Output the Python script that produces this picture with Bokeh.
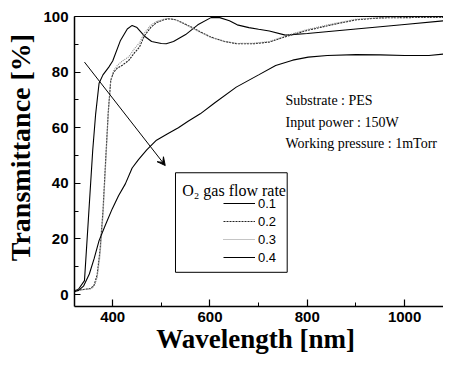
import numpy as np
from bokeh.plotting import figure
from bokeh.models import (LinearAxis, FixedTicker, Range1d, Legend, LegendItem,
                          Label, BoxAnnotation, Arrow, VeeHead)
from bokeh.embed import file_html
from bokeh.resources import INLINE

# ---------------- data ----------------
wl_01 = [320, 330, 342, 350, 359, 365, 372, 380, 392, 400, 416, 430, 440, 450, 465,
         480, 500, 510, 525, 550, 575, 602, 620, 640, 656, 680, 700, 722, 755, 800,
         900, 1000, 1090, 1100]
t_01 = [1.0, 2.0, 5.0, 27, 52, 65, 76, 79, 81.8, 84, 91.4, 95.5, 96.8, 96, 93,
        91, 90.3, 90.2, 91, 93.5, 97, 99.6, 99.6, 98.5, 97, 96, 95.4, 94.8, 93.3, 93.9,
        95.5, 97.1, 98.6, 99]

wl_02 = [320, 340, 355, 362, 368, 374, 380, 386, 391, 396, 402, 410, 420, 433, 445,
         455, 465, 478, 490, 505, 515, 530, 555, 580, 602, 630, 656, 690, 722, 760,
         800, 850, 900, 950, 1000, 1100]
t_02 = [1.5, 1.8, 2.2, 3.5, 7, 16, 30, 50, 66, 77, 80, 81.5, 82.5, 84.2, 87,
        89, 93, 96, 97.8, 98.8, 99.2, 98.8, 96.8, 94.5, 92.6, 91, 90.2, 90.2, 90.8, 93,
        95, 97, 98.8, 99.5, 99.6, 99.7]

wl_03 = [320, 340, 355, 362, 368, 374, 380, 386, 391, 396, 402, 410, 420, 433, 445,
         455, 465, 478, 490, 505, 515, 530, 555, 580, 602, 630, 656, 690, 722, 760,
         800, 850, 900, 950, 1000, 1100]
t_03 = [1.5, 1.8, 2.0, 3.0, 6, 14, 28, 48, 65, 77, 80.5, 82.5, 84, 85.5, 88.5,
        90.5, 94, 96.8, 98.2, 99, 99.3, 98.8, 96.6, 94.3, 92.5, 91, 90.3, 90.4, 91, 93.3,
        95.3, 97.3, 99, 99.6, 99.7, 99.8]

wl_04 = [320, 330, 340, 352, 362, 372, 385, 399, 412, 426, 440, 453, 470, 490, 513,
         535, 555, 580, 610, 654, 700, 735, 770, 802, 841, 900, 950, 1000, 1050, 1080,
         1090, 1100]
t_04 = [1.0, 1.5, 3.0, 7.4, 13, 19.4, 25, 30.8, 35.5, 39.8, 45.5, 48.5, 52, 55.5, 57.8,
        60, 62.3, 65, 69, 74.6, 79, 82.4, 84.3, 85.4, 86, 86.3, 86.2, 86, 86, 86.5,
        87.3, 87]

series_labels = ["0.1", "0.2", "0.3", "0.4"]
x_ticks = [400, 600, 800, 1000]
x_minor = [300, 500, 700, 900, 1100]
y_ticks = [0, 20, 40, 60, 80, 100]
y_minor = [10, 30, 50, 70, 90]

notes = ["Substrate : PES", "Input power : 150W", "Working pressure : 1mTorr"]
note_y = [69.8, 62.0, 54.2]
arrow_start = (342, 83.6)
arrow_end = (508, 46.4)

SERIF = "Liberation Serif"
SANS = "Liberation Sans"
NBSP = "\u00a0"

# ---------------- figure ----------------
p = figure(frame_width=369, frame_height=290,
           min_border_left=74, min_border_right=0, min_border_top=16, min_border_bottom=40,
           x_range=Range1d(321.5, 1080), y_range=Range1d(-4.3, 100),
           output_backend="svg", toolbar_location=None,
           background_fill_color="white", border_fill_color="white")
p.grid.visible = False
p.outline_line_color = None

for ax, ticks, minor in ((p.xaxis[0], x_ticks, x_minor), (p.yaxis[0], y_ticks, y_minor)):
    ax.ticker = FixedTicker(ticks=ticks, minor_ticks=minor)
    ax.axis_line_width = 1.5
    ax.axis_line_color = "black"
    ax.major_tick_in = 7
    ax.major_tick_out = 0
    ax.minor_tick_in = 4
    ax.minor_tick_out = 0
    ax.major_tick_line_width = 1.2
    ax.minor_tick_line_width = 1.0
    ax.major_label_text_font = SANS
    ax.major_label_text_font_style = "bold"
    ax.major_label_text_font_size = "15px"
    ax.major_label_text_color = "black"
    ax.axis_label_text_font = SERIF
    ax.axis_label_text_font_style = "bold"
    ax.axis_label_text_color = "black"
    ax.axis_label_text_line_height = 1.0

p.xaxis[0].major_label_standoff = 5
p.xaxis[0].axis_label = "Wavelength [nm]" + NBSP
p.xaxis[0].axis_label_text_font_size = "27px"
p.xaxis[0].axis_label_standoff = -1
p.yaxis[0].major_label_standoff = 6
p.yaxis[0].major_tick_in = 6
p.yaxis[0].axis_label = NBSP * 4 + "Transmittance [%]"
p.yaxis[0].axis_label_text_font_size = "28px"
p.yaxis[0].axis_label_standoff = 4

top = LinearAxis(ticker=FixedTicker(ticks=[]), major_label_text_font_size="0px",
                 major_tick_line_color=None, minor_tick_line_color=None,
                 axis_line_width=1.2, axis_line_color="black")
p.add_layout(top, "above")

r1 = p.line(wl_01, t_01, line_color="black", line_width=1.1)
r2 = p.line(wl_02, t_02, line_color="#222222", line_width=1.1, line_dash="2 1")
r3 = p.line(wl_03, t_03, line_color="#8a8a8a", line_width=1.1, line_dash="1 1")
r4 = p.line(wl_04, t_04, line_color="black", line_width=1.1)

# legend box and title
p.add_layout(BoxAnnotation(left=529.1, right=758.7, bottom=8.0, top=43.8,
                           fill_color="white", fill_alpha=1.0,
                           line_color="black", line_alpha=1.0, line_width=1.0,
                           level="annotation"))
p.add_layout(Label(x=542.9, y=37.4, text="O\u2082 gas flow rate", text_font=SERIF,
                   text_font_size="16px", text_color="black", text_baseline="alphabetic"))

legend = Legend(items=[LegendItem(label=lab, renderers=[r])
                       for lab, r in zip(series_labels, [r1, r2, r3, r4])],
                location=(149, 41), orientation="vertical",
                border_line_color=None, background_fill_alpha=0.0,
                padding=0, spacing=2, glyph_height=16, label_height=16,
                glyph_width=32, label_standoff=3, margin=0,
                label_text_font=SANS, label_text_font_size="13px",
                label_text_color="black")
p.add_layout(legend)

# annotation notes
for txt, yy in zip(notes, note_y):
    p.add_layout(Label(x=755.2, y=yy, text=txt, text_font=SERIF, text_font_size="14px",
                       text_color="black", text_baseline="alphabetic"))

# arrow
p.add_layout(Arrow(x_start=arrow_start[0], y_start=arrow_start[1],
                   x_end=arrow_end[0], y_end=arrow_end[1],
                   line_color="black", line_width=1.0,
                   end=VeeHead(size=8, fill_color="black", line_color="black")))

open("out.html", "w").write(file_html(p, INLINE))
